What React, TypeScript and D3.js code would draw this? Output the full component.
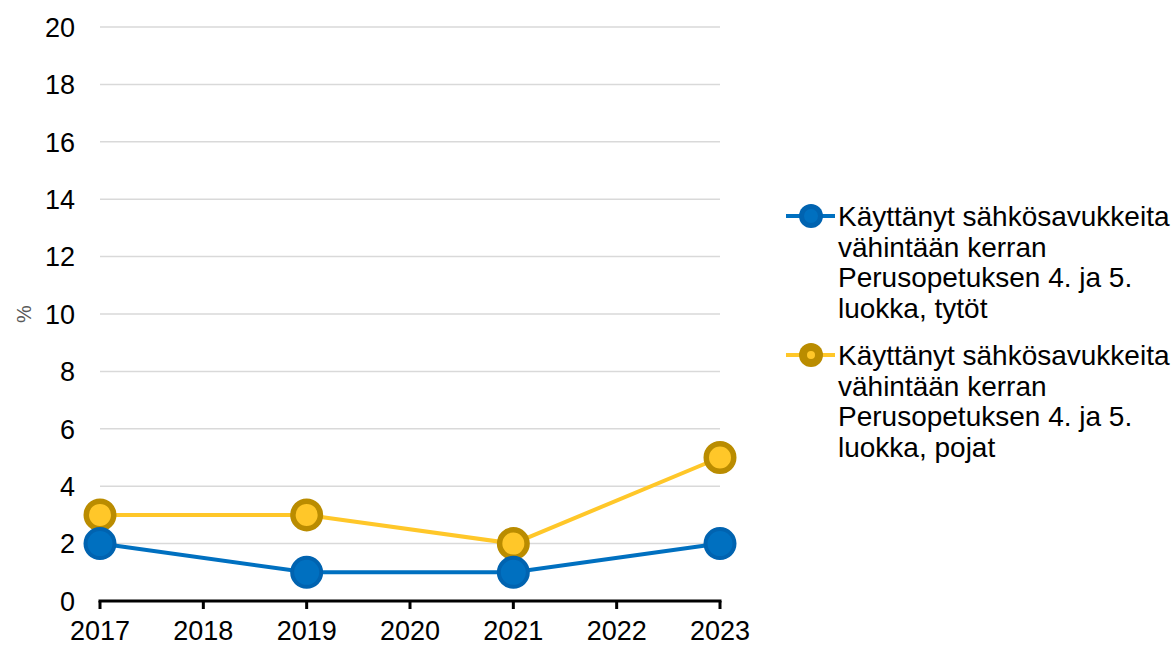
import React from "react";
import * as d3 from "d3";

const years = [2017, 2019, 2021, 2023];
const girls = [2, 1, 1, 2];
const boys = [3, 3, 2, 5];
const yTicks = [0, 2, 4, 6, 8, 10, 12, 14, 16, 18, 20];
const xTicks = [2017, 2018, 2019, 2020, 2021, 2022, 2023];
const girlsLabel = ["Käyttänyt sähkösavukkeita", "vähintään kerran", "Perusopetuksen 4. ja 5.", "luokka, tytöt"];
const boysLabel = ["Käyttänyt sähkösavukkeita", "vähintään kerran", "Perusopetuksen 4. ja 5.", "luokka, pojat"];

const font = "'Liberation Sans', Arial, sans-serif";

const App = () => {
  const w = 1175;
  const h = 647;

  const x = d3.scaleLinear().domain([2017, 2023]).range([100, 720]);
  const y = d3.scaleLinear().domain([0, 20]).range([601, 27]);

  const line = d3
    .line<[number, number]>()
    .x((d) => x(d[0]))
    .y((d) => y(d[1]));

  const series = [
    { values: girls, line: "#0070C0", fill: "#0070C0", stroke: "#0063B0", sw: 4, label: girlsLabel, ly: 216, innerR: 7 },
    { values: boys, line: "#FFC729", fill: "#FFC729", stroke: "#BA8C00", sw: 5.5, label: boysLabel, ly: 355, innerR: 4 },
  ];

  return (
    <svg width={w} height={h} style={{ position: "absolute", left: 0, top: 0 }} fontFamily={font}>
      {/* grid */}
      {yTicks.slice(1).map((t) => (
        <line key={t} x1={100} x2={720} y1={y(t)} y2={y(t)} stroke="#D9D9D9" strokeWidth={1.5} />
      ))}
      {yTicks.map((t) => (
        <text key={t} x={75} y={y(t)} dy="0.36em" textAnchor="end" fontSize={27} fill="#000">
          {t}
        </text>
      ))}
      <text transform={`translate(31,${y(10)}) rotate(-90)`} textAnchor="middle" fontSize={20} fill="#595959">
        %
      </text>

      {/* x axis */}
      <line x1={x(2017) - 1.5} x2={x(2023) + 1.5} y1={y(0)} y2={y(0)} stroke="#000" strokeWidth={3} />
      {xTicks.map((t) => (
        <g key={t}>
          <line x1={x(t)} x2={x(t)} y1={y(0)} y2={y(0) + 8} stroke="#000" strokeWidth={3} />
          <text x={x(t)} y={640} textAnchor="middle" fontSize={27} fill="#000">
            {t}
          </text>
        </g>
      ))}

      {/* lines */}
      {series.map((s, i) => (
        <path
          key={"l" + i}
          d={line(years.map((yr, j) => [yr, s.values[j]] as [number, number])) || ""}
          fill="none"
          stroke={s.line}
          strokeWidth={4}
        />
      ))}
      {series
        .slice()
        .reverse()
        .map((s, i) => (
          <g key={"m" + i}>
            {years.map((yr, j) => (
              <circle
                key={yr}
                cx={x(yr)}
                cy={y(s.values[j])}
                r={16.5 - s.sw / 2}
                fill={s.fill}
                stroke={s.stroke}
                strokeWidth={s.sw}
              />
            ))}
          </g>
        ))}

      {/* legend */}
      {series.map((s, i) => (
        <g key={"g" + i}>
          <line x1={786} x2={835} y1={s.ly} y2={s.ly} stroke={s.line} strokeWidth={4} />
          <circle cx={811} cy={s.ly} r={12} fill={s.stroke} />
          <circle cx={811} cy={s.ly} r={s.innerR} fill={s.fill} />
          {s.label.map((t, k) => (
            <text key={k} x={838} y={s.ly + k * 30.5} dy="0.36em" fontSize={28} fill="#000">
              {t}
            </text>
          ))}
        </g>
      ))}
    </svg>
  );
};

export default App;
